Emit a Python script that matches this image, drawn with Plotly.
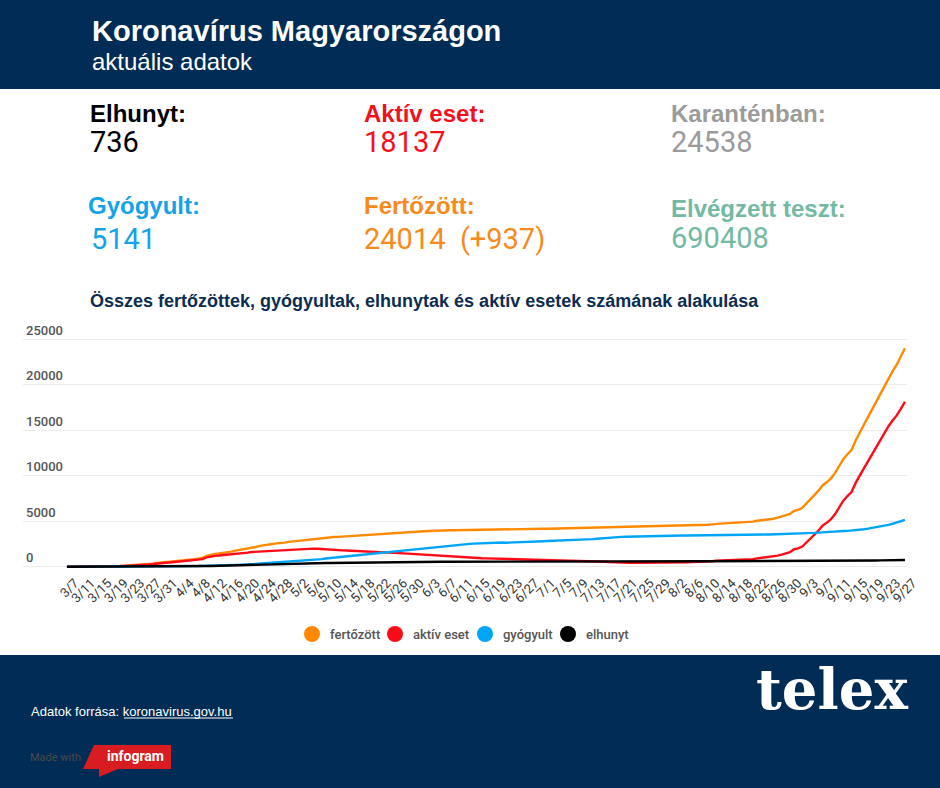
import pandas as pd
import plotly.graph_objects as go

# daily data 3/7 - 9/27 (one row per month)
dates = [f"{d.month}/{d.day}" for d in pd.date_range("2020-03-07", "2020-09-27")]

fertozott = [
    7, 7, 9, 9, 13, 16, 19, 30, 32, 39, 50, 58, 73, 85, 103, 131, 167, 187, 226, 261, 300, 343, 408, 447, 492,
    525, 585, 623, 678, 733, 744, 817, 895, 980, 1190, 1310, 1410, 1458, 1512, 1579, 1652, 1763, 1834, 1916, 1984,
    2098, 2168, 2284, 2383, 2443, 2500, 2559, 2583, 2649, 2727,
    2775, 2863, 2942, 2998, 3035, 3065, 3111, 3150, 3178, 3213, 3263, 3284, 3313, 3341, 3380, 3417, 3473, 3509,
    3535, 3556, 3598, 3641, 3678, 3713, 3741, 3756, 3771, 3793, 3816, 3841, 3867,
    3876, 3892, 3921, 3931, 3954, 3970, 3990, 4008, 4014, 4017, 4027, 4039, 4046, 4053, 4064, 4069, 4077, 4081,
    4094, 4102, 4107, 4114, 4123, 4127, 4131, 4138, 4142, 4145, 4155, 4157,
    4166, 4172, 4183, 4189, 4199, 4205, 4210, 4212, 4220, 4229, 4234, 4247, 4263, 4279, 4293, 4298, 4305, 4315,
    4326, 4336, 4339, 4343, 4351, 4366, 4374, 4380, 4387, 4405, 4421, 4427, 4448,
    4456, 4465, 4484, 4505, 4526, 4538, 4553, 4564, 4597, 4611, 4653, 4711, 4742, 4763, 4786, 4813, 4823, 4842,
    4857, 4916, 4951, 5046, 5100, 5155, 5216, 5267, 5400, 5511, 5669, 5809, 6139,
    6257, 6475, 6923, 7382, 7892, 8387, 8963, 9304, 9715, 10313, 11123, 11825, 12359, 12830, 13879, 14661, 15600,
    16450, 17300, 18250, 19100, 19950, 20750, 21500, 22200, 23077, 24014,
]
aktiv = [
    7, 7, 9, 9, 13, 16, 19, 30, 30, 37, 48, 55, 70, 75, 92, 109, 144, 162, 196, 223, 256, 298, 361, 398, 439,
    456, 509, 539, 584, 633, 639, 700, 763, 826, 1019, 1126, 1196, 1230, 1268, 1311, 1350, 1429, 1462, 1508, 1543,
    1614, 1640, 1704, 1742, 1761, 1778, 1799, 1782, 1809, 1845,
    1860, 1924, 1982, 2007, 2012, 1992, 1968, 1928, 1873, 1852, 1842, 1819, 1798, 1775, 1758, 1739, 1742, 1717,
    1688, 1656, 1644, 1635, 1621, 1607, 1585, 1542, 1501, 1469, 1434, 1402, 1381,
    1339, 1304, 1277, 1234, 1205, 1171, 1145, 1120, 1084, 1046, 1024, 1004, 980, 954, 938, 921, 913, 900,
    897, 889, 878, 904, 902, 855, 848, 834, 817, 809, 808, 788,
    780, 770, 765, 760, 760, 750, 740, 720, 710, 700, 680, 670, 640, 610, 580, 550, 520, 490,
    470, 460, 450, 440, 430, 430, 420, 420, 420, 430, 440, 440, 450,
    450, 455, 465, 480, 495, 505, 515, 525, 550, 560, 600, 650, 675, 690, 705, 725, 730, 745,
    755, 805, 830, 915, 960, 1005, 1055, 1095, 1220, 1320, 1470, 1600, 1920,
    2020, 2218, 2634, 3061, 3539, 4003, 4536, 4845, 5224, 5790, 6578, 7258, 7770, 8208, 9213, 9941, 10817,
    11591, 12363, 13236, 13999, 14752, 15445, 16068, 16632, 17350, 18137,
]
gyogyult = [
    0, 0, 0, 0, 0, 0, 0, 0, 1, 1, 1, 2, 2, 7, 7, 16, 16, 16, 20, 28, 34, 34, 34, 34, 37,
    49, 55, 58, 62, 66, 67, 70, 74, 88, 94, 99, 115, 119, 122, 134, 160, 178, 200, 219, 242,
    271, 303, 341, 391, 420, 450, 480, 510, 540, 570,
    595, 610, 620, 640, 660, 700, 760, 830, 900, 948, 1000, 1040, 1085, 1130, 1180, 1230, 1280, 1330,
    1380, 1430, 1480, 1530, 1575, 1620, 1665, 1715, 1765, 1815, 1865, 1915, 1960,
    2010, 2060, 2110, 2160, 2210, 2260, 2300, 2340, 2380, 2420, 2450, 2480, 2510, 2540, 2565, 2585, 2600, 2615,
    2630, 2645, 2660, 2640, 2650, 2700, 2710, 2730, 2750, 2760, 2770, 2790,
    2806, 2821, 2836, 2845, 2854, 2870, 2884, 2905, 2922, 2940, 2965, 2988, 3034, 3079, 3123, 3157, 3194, 3233,
    3263, 3283, 3295, 3309, 3327, 3341, 3359, 3365, 3371, 3379, 3385, 3391, 3402,
    3409, 3413, 3421, 3427, 3432, 3433, 3438, 3438, 3445, 3449, 3450, 3457, 3462, 3467, 3474, 3480, 3484, 3487,
    3491, 3499, 3508, 3517, 3525, 3535, 3545, 3555, 3562, 3572, 3579, 3587, 3594,
    3610, 3630, 3660, 3690, 3720, 3750, 3790, 3820, 3850, 3880, 3900, 3920, 3940, 3970, 4010, 4060, 4120,
    4190, 4260, 4330, 4410, 4500, 4600, 4720, 4850, 5000, 5141,
]
elhunyt = [
    0, 0, 0, 0, 0, 0, 0, 0, 1, 1, 1, 1, 1, 3, 4, 6, 7, 9, 10, 10, 10, 11, 13, 15, 16,
    20, 21, 26, 32, 34, 38, 47, 58, 66, 77, 85, 99, 109, 122, 134, 142, 156, 172, 189, 199,
    213, 225, 239, 250, 262, 272, 280, 291, 300, 312,
    320, 329, 340, 351, 363, 373, 383, 392, 405, 413, 421, 425, 430, 436, 442, 448, 451, 462,
    467, 470, 474, 476, 482, 486, 491, 499, 505, 509, 517, 524, 526,
    527, 528, 534, 537, 539, 539, 545, 548, 550, 551, 553, 555, 556, 559, 561, 563, 564, 566,
    567, 568, 569, 570, 571, 572, 573, 574, 575, 576, 577, 579,
    580, 581, 582, 584, 585, 585, 586, 587, 588, 589, 589, 589, 589, 590, 590, 591, 591, 592,
    593, 593, 594, 594, 594, 595, 595, 595, 596, 596, 596, 596, 596,
    597, 597, 598, 598, 599, 600, 600, 601, 602, 602, 603, 604, 605, 606, 607, 608, 609, 610,
    611, 612, 613, 614, 615, 615, 616, 617, 618, 619, 620, 622, 625,
    627, 627, 629, 631, 633, 634, 637, 639, 641, 643, 645, 647, 649, 652, 656, 660, 663,
    669, 677, 684, 691, 698, 705, 712, 718, 727, 736,
]
y_ticks = [0, 5000, 10000, 15000, 20000, 25000]

series = [
    ("fertőzött", fertozott, "#ff8a00"),
    ("aktív eset", aktiv, "#ff0a16"),
    ("gyógyult", gyogyult, "#00a6f5"),
    ("elhunyt", elhunyt, "#000000"),
]

# headline numbers: label, value, colour, x, top of the block, line size (sets the gap)
cards = [
    ("Elhunyt:", "736", "#000000", 89, 99, 22.8),
    ("Aktív eset:", "18137", "#f40f1d", 363, 99, 22.8),
    ("Karanténban:", "24538", "#9b9b9b", 670, 99, 22.8),
    ("Gyógyult:", "\u200a5141", "#14a3e8", 87, 191, 26.6),
    ("Fertőzött:", "24014\u00a0\u00a0(+937)", "#f58b1c", 363, 191, 26.6),
    ("Elvégzett teszt:", "690408", "#73b9a3", 670, 194, 24.2),
]

NAVY = "#002c55"
W, H = 940, 788
L, R, T, B = 23, 907, 312, 570


def fx(px):
    return (px - L) / (R - L)


def fy(py):
    return (B - py) / (B - T)


fig = go.Figure()

for name, vals, color in series:
    fig.add_trace(go.Scatter(x=dates, y=vals, mode="lines", name=name,
                             line=dict(color=color, width=2.4), showlegend=False))

ann = []


def text(x, y, s, size, color, family="Roboto", weight="normal", yanchor="middle"):
    ann.append(dict(x=fx(x), y=fy(y), xref="paper", yref="paper", text=s, showarrow=False,
                    xanchor="left", yanchor=yanchor, align="left", borderpad=0,
                    font=dict(size=size, color=color, family=family, weight=weight)))


text(91, 31, "Koronavírus Magyarországon", 29, "white", "Liberation Sans", "bold")
text(91, 61, "aktuális adatok", 24, "white", "Liberation Sans")
for label, value, color, x, y, size in cards:
    s = (f"<span style='font-size:24px'><b>{label}</b></span><br>"
         f"<span style='font-family:Roboto;font-size:29px'>{value}</span>")
    text(x, y, s, size, color, "Liberation Sans", yanchor="top")
text(89, 301, "Összes fertőzöttek, gyógyultak, elhunytak és aktív esetek számának alakulása",
     18, "#0c2d50", "Liberation Sans", "bold")
text(30, 711, "Adatok forrása: koronavirus.gov.hu", 13, "white", "Liberation Sans")
text(29, 757, "Made with", 11, "#4a4a4a", "Roboto")
text(106, 756, "infogram", 14, "white", "Roboto", "bold")
text(755, 689, "telex", 56, "white", "DejaVu Serif", "bold")

# legend drawn by hand: circle + label
legend_x = [312, 395, 485, 568]
shapes = []
for (name, _, color), cx in zip(series, legend_x):
    shapes.append(dict(type="circle", xref="paper", yref="paper", fillcolor=color, line_width=0,
                       x0=fx(cx - 8), x1=fx(cx + 8), y0=fy(642), y1=fy(626)))
    text(cx + 17, 634, name, 13, "#555555", "Roboto", 500)


def path(points):
    return "M " + " L ".join(f"{fx(x)} {fy(y)}" for x, y in points) + " Z"


shapes += [
    dict(type="rect", xref="paper", yref="paper", x0=fx(0), x1=fx(W), y0=fy(0), y1=fy(89),
         fillcolor=NAVY, line_width=0, layer="below"),
    dict(type="rect", xref="paper", yref="paper", x0=fx(0), x1=fx(W), y0=fy(655), y1=fy(H),
         fillcolor=NAVY, line_width=0, layer="below"),
    dict(type="line", xref="paper", yref="paper", x0=fx(124), x1=fx(233), y0=fy(718), y1=fy(718),
         line=dict(color="white", width=1)),
    dict(type="path", xref="paper", yref="paper", fillcolor="#d71c22", line_width=0,
         path=path([(94, 745), (171, 745), (171, 769), (118, 769), (99, 777), (99, 769), (83, 769)])),
]

# y range chosen so 0 sits at 566.7 px and 25000 at 339.3 px
px_per_unit = (566.7 - 339.3) / 25000
y_lo = -(B - 566.7) / px_per_unit
y_hi = 25000 + (339.3 - T) / px_per_unit

fig.update_layout(
    width=W, height=H,
    margin=dict(l=L, r=W - R, t=T, b=H - B, pad=0),
    paper_bgcolor="white", plot_bgcolor="white",
    font=dict(family="Roboto", color="#333333"),
    annotations=ann, shapes=shapes,
    showlegend=False,
    xaxis=dict(type="category", range=[-10.7, 204.5], showgrid=False, zeroline=False, showline=False,
               tickmode="array", tickvals=dates[::4], ticktext=dates[::4], tickangle=-45,
               ticks="", ticklabelshift=8, ticklabelstandoff=2,
               tickfont=dict(size=13, color="#333333", family="Roboto")),
    yaxis=dict(range=[y_lo, y_hi], tickvals=y_ticks, tickformat="d",
               ticklabelposition="inside top", showgrid=True, gridcolor="#ebebeb", gridwidth=1,
               zeroline=False, showline=False, ticks="",
               tickfont=dict(size=13, color="#555555", family="Roboto", weight=500)),
    hovermode=False,
)

fig.write_html("out.html", config={"displayModeBar": False},
               post_script="document.body.style.margin='0';")
